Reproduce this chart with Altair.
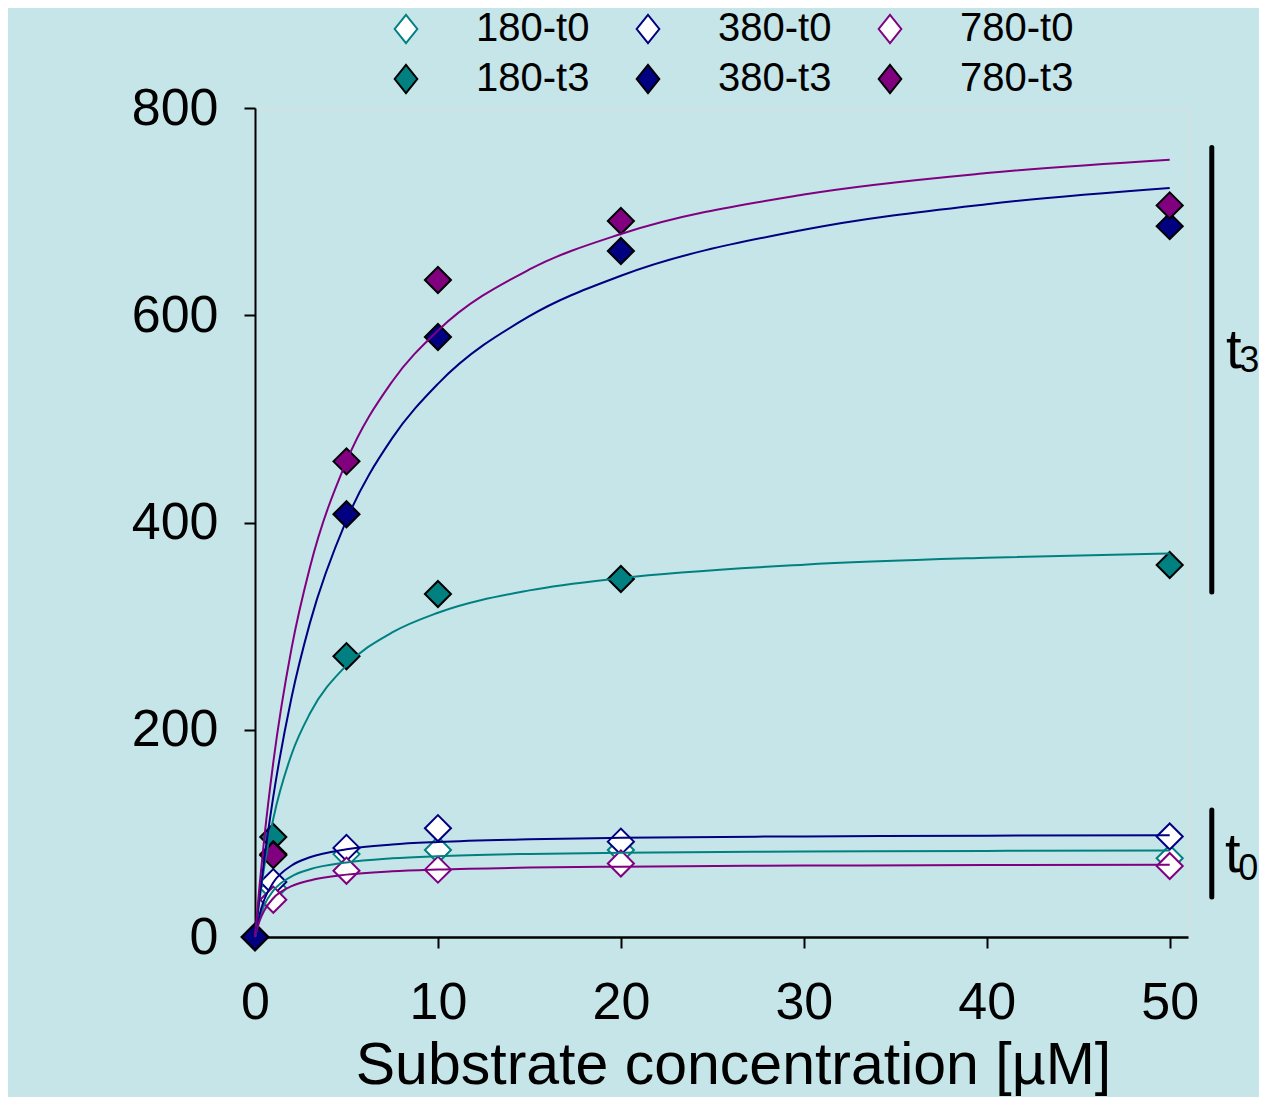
import altair as alt
import pandas as pd

# ---- data ----
series = ["180-t0", "380-t0", "780-t0", "180-t3", "380-t3", "780-t3"]
conc = [0, 1, 5, 10, 20, 50]
obs_180_t0 = [0, 47, 80, 84, 84, 76]
obs_380_t0 = [0, 53, 86, 105, 92, 97]
obs_780_t0 = [0, 36, 64, 65, 71, 68.5]
obs_180_t3 = [0, 96.5, 271, 331, 345.5, 359]
obs_380_t3 = [0, 80, 408, 579, 662, 686]
obs_780_t3 = [0, 79, 459, 634, 691, 706]

# fitted curves at these concentrations
fit_x = [0, 0.25, 0.5, 1, 2, 3, 5, 7.5, 10, 15, 20, 30, 40, 50]
fit_180_t0 = [0, 18.5, 30.4, 44.7, 58.6, 65.4, 72.0, 75.9, 78.0, 80.2, 81.3, 82.5, 83.1, 83.5]
fit_380_t0 = [0, 21.7, 35.7, 52.6, 69.0, 76.9, 84.7, 89.3, 91.7, 94.3, 95.7, 97.1, 97.8, 98.2]
fit_780_t0 = [0, 15.4, 25.4, 37.4, 49.0, 54.6, 60.2, 63.4, 65.1, 67.0, 67.9, 68.9, 69.4, 69.7]
fit_180_t3 = [0, 36.6, 66.9, 114.1, 176.4, 215.6, 262.2, 293.9, 312.9, 334.5, 346.4, 359.3, 366.0, 370.2]
fit_380_t3 = [0, 38.8, 74.0, 135.4, 231.4, 302.9, 402.3, 481.4, 533.8, 599.1, 638.1, 682.5, 707.2, 722.8]
fit_780_t3 = [0, 49.9, 94.1, 168.5, 278.8, 356.6, 459.0, 536.1, 585.2, 644.2, 678.4, 716.5, 737.2, 750.1]

x_ticks = [0, 10, 20, 30, 40, 50]
y_ticks = [0, 200, 400, 600, 800]

# bracket annotations on the right
bar_labels = ["t3", "t0"]
bar_x = [52.3, 52.3]
bar_lo = [333, 38.6]
bar_hi = [762, 122.6]
ann_main = ["t", "t"]
ann_main_x = [53.5, 53.45]
ann_main_y = [549, 62.7]
ann_sub = ["3", "0"]
ann_sub_x = [54.35, 54.3]
ann_sub_y = [545, 55]

fill_colors = ["white", "white", "white", "#008080", "#000080", "#800080"]
stroke_colors = ["#008080", "#000080", "#800080", "black", "black", "black"]
line_colors = ["#008080", "#000080", "#800080", "#008080", "#000080", "#800080"]

obs = dict(zip(series, [obs_180_t0, obs_380_t0, obs_780_t0, obs_180_t3, obs_380_t3, obs_780_t3]))
fits = dict(zip(series, [fit_180_t0, fit_380_t0, fit_780_t0, fit_180_t3, fit_380_t3, fit_780_t3]))

# ---- tables ----
rows = []
for s in series:
    for c, v in zip(conc, obs[s]):
        if c != 0:
            rows.append({"series": s, "conc": c, "value": v})
for s in ["180-t0", "380-t0", "780-t0", "180-t3", "780-t3", "380-t3"]:
    rows.append({"series": s, "conc": conc[0], "value": obs[s][0]})
pts = pd.DataFrame(rows)

frows = []
for s in series:
    for c, v in zip(fit_x, fits[s]):
        frows.append({"series": s, "conc": c, "value": v})
fit_df = pd.DataFrame(frows)

bars = pd.DataFrame({"label": bar_labels, "x": bar_x, "lo": bar_lo, "hi": bar_hi})
main_df = pd.DataFrame({"txt": ann_main, "x": ann_main_x, "y": ann_main_y})
sub_df = pd.DataFrame({"txt": ann_sub, "x": ann_sub_x, "y": ann_sub_y})

FONT = "Liberation Sans"

xscale = alt.Scale(domain=[0, 51], nice=False, zero=False)
yscale = alt.Scale(domain=[0, 800], nice=False)

xaxis = alt.Axis(values=x_ticks, title="Substrate concentration [µM]", labelFontSize=52,
                 titleFontSize=59, titleFontWeight="normal", titleColor="black",
                 labelColor="black", tickColor="black", domainColor="black",
                 tickSize=11, tickWidth=2, domainWidth=2.5, grid=False,
                 labelPadding=29, titlePadding=8, labelFlush=False, titleX=478)
yaxis = alt.Axis(values=y_ticks, title=None, labelFontSize=52, labelColor="black",
                 tickColor="black", domainColor="black", tickSize=11, tickWidth=2,
                 domainWidth=2, grid=False, labelPadding=26, labelFlush=False)

legend = alt.Legend(title=None, orient="none", direction="horizontal",
                    legendX=131, legendY=-99, columns=3,
                    symbolType="M0,-1L0.8,0L0,1L-0.8,0Z", symbolSize=800,
                    symbolStrokeWidth=2, labelFontSize=40, labelFont=FONT,
                    labelColor="black", labelOffset=50, columnPadding=38,
                    rowPadding=10, padding=0)

x_enc = alt.X("conc:Q", scale=xscale, axis=xaxis)
y_enc = alt.Y("value:Q", scale=yscale, axis=yaxis)

points = alt.Chart(pts).mark_point(shape="diamond", size=680, filled=True, opacity=1,
                                   strokeWidth=2, strokeOpacity=1).encode(
    x=x_enc, y=y_enc,
    fill=alt.Fill("series:N", scale=alt.Scale(domain=series, range=fill_colors), legend=legend),
    stroke=alt.Stroke("series:N", scale=alt.Scale(domain=series, range=stroke_colors), legend=legend),
)

lines = alt.Chart(fit_df).mark_line(strokeWidth=2, interpolate="monotone").encode(
    x=alt.X("conc:Q"), y=alt.Y("value:Q"),
    color=alt.Color("series:N", scale=alt.Scale(domain=series, range=line_colors), legend=None),
    detail="series:N",
)

rules = alt.Chart(bars).mark_rule(strokeWidth=5, strokeCap="round", color="black").encode(
    x="x:Q", y="lo:Q", y2="hi:Q"
)

main_txt = alt.Chart(main_df).mark_text(fontSize=56, font=FONT, color="black",
                                        align="center", baseline="alphabetic").encode(
    x="x:Q", y="y:Q", text="txt:N"
)
sub_txt = alt.Chart(sub_df).mark_text(fontSize=36, font=FONT, color="black",
                                      align="center", baseline="alphabetic").encode(
    x="x:Q", y="y:Q", text="txt:N"
)

chart = alt.layer(points, lines, rules, main_txt, sub_txt).properties(
    width=933, height=829,
    autosize=alt.AutoSizeParams(type="none"),
    padding={"left": 247, "top": 100, "right": 71, "bottom": 160},
    background="#C5E5E8",
).configure_view(stroke="black", strokeWidth=1.5).configure(font=FONT)

chart.save("out.html", embed_options={"renderer": "svg", "actions": False})
